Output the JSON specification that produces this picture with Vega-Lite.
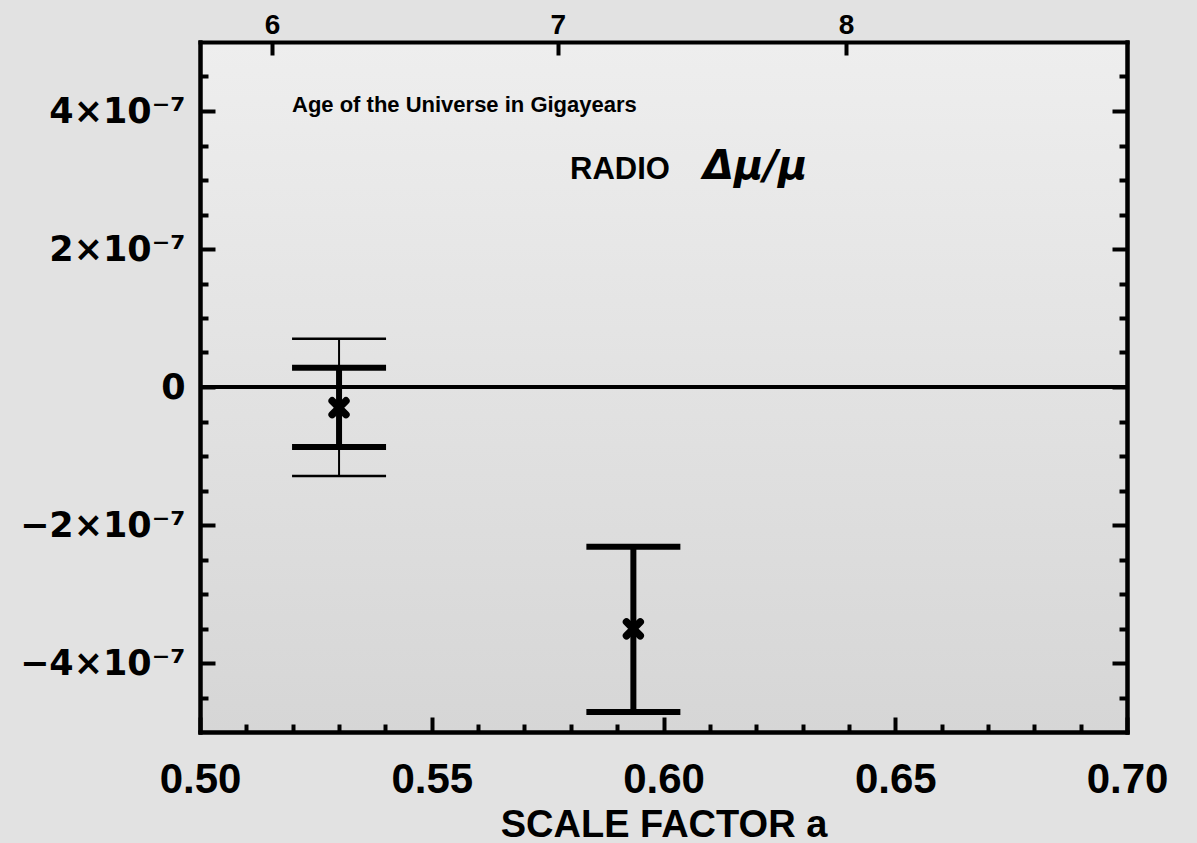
{
  "$schema": "https://vega.github.io/schema/vega-lite/v6.json",
  "width": 927,
  "height": 690,
  "autosize": {"type": "none"},
  "padding": {"left": 200, "top": 42, "right": 70, "bottom": 111},
  "background": "#e2e2e2",
  "config": {
    "view": {"stroke": null, "fill": {"gradient": "linear", "x1": 0, "y1": 0, "x2": 0, "y2": 1, "stops": [{"offset": 0, "color": "#eeeeee"}, {"offset": 1, "color": "#d6d6d6"}]}},
    "axis": {"grid": false, "domainColor": "black", "domainWidth": 4, "domainCap": "square", "tickColor": "black", "tickWidth": 4, "labelColor": "black", "labelFont": "Liberation Sans", "titleFont": "Liberation Sans", "titleColor": "black", "labelFlush": false, "labelOverlap": false},
    "mark": {"color": "black"}
  },
  "datasets": {
    "pts": [
      {"a": 0.530, "mu": -0.30e-7, "lo": -0.87e-7, "hi": 0.28e-7, "lo2": -1.29e-7, "hi2": 0.70e-7},
      {"a": 0.5935, "mu": -3.505e-7, "lo": -4.71e-7, "hi": -2.315e-7, "lo2": null, "hi2": null}
    ]
  },
  "layer": [
    {
      "data": {"name": "pts"},
      "transform": [{"filter": "isValid(datum.lo2)"}],
      "mark": {"type": "rule", "strokeWidth": 2},
      "encoding": {
        "x": {"field": "a", "type": "quantitative", "scale": {"domain": [0.5, 0.7], "nice": false, "zero": false},
          "axis": {"orient": "bottom", "values": [0.5, 0.55, 0.6, 0.65, 0.7], "format": ".2f", "tickSize": -15, "labelPadding": 42, "labelFontSize": 42, "labelFontWeight": "bold", "title": "SCALE FACTOR a", "titleFontSize": 38, "titleFontWeight": "bold", "titleBaseline": "alphabetic", "titleY": 104}},
        "y": {"field": "lo2", "type": "quantitative", "scale": {"domain": [-5e-7, 5e-7], "nice": false, "zero": false},
          "axis": {"orient": "left", "values": [-4e-7, -2e-7, 0, 2e-7, 4e-7], "tickSize": -15, "labelPadding": 30, "labelFont": "DejaVu Sans", "labelFontSize": 35, "labelFontWeight": "bold", "labelExpr": "datum.value == 0 ? '0' : (datum.value < 0 ? '−' : '') + abs(round(datum.value * 1e7)) + '×10⁻⁷'", "title": null}},
        "y2": {"field": "hi2"}
      }
    },
    {
      "data": {"name": "pts"},
      "transform": [{"filter": "isValid(datum.lo2)"}, {"fold": ["lo2", "hi2"], "as": ["k", "v"]}],
      "mark": {"type": "tick", "orient": "horizontal", "size": 94, "thickness": 2.5, "opacity": 1},
      "encoding": {
        "x": {"field": "a", "type": "quantitative", "scale": {"domain": [0.5, 0.7], "nice": false, "zero": false},
          "axis": {"orient": "bottom", "values": [0.51, 0.52, 0.53, 0.54, 0.56, 0.57, 0.58, 0.59, 0.61, 0.62, 0.63, 0.64, 0.66, 0.67, 0.68, 0.69], "tickSize": -8, "labels": false, "title": null}},
        "y": {"field": "v", "type": "quantitative", "scale": {"domain": [-5e-7, 5e-7], "nice": false, "zero": false},
          "axis": {"orient": "left", "values": [-4.5e-7, -3.5e-7, -3e-7, -2.5e-7, -1.5e-7, -1e-7, -0.5e-7, 0.5e-7, 1e-7, 1.5e-7, 2.5e-7, 3e-7, 3.5e-7, 4.5e-7], "tickSize": -8, "labels": false, "title": null}}
      }
    },
    {
      "data": {"name": "pts"},
      "mark": {"type": "rule", "strokeWidth": 6},
      "encoding": {
        "x": {"field": "a", "type": "quantitative", "scale": {"domain": [0.5, 0.7], "nice": false, "zero": false},
          "axis": {"orient": "top", "values": [0.51553, 0.5772, 0.6394], "labelExpr": "datum.value < 0.55 ? '6' : (datum.value < 0.6 ? '7' : '8')", "tickSize": -13, "labelPadding": 16, "labelFontSize": 28, "labelFontWeight": "bold", "title": null}},
        "y": {"field": "lo", "type": "quantitative", "scale": {"domain": [-5e-7, 5e-7], "nice": false, "zero": false},
          "axis": {"orient": "right", "values": [-4e-7, -2e-7, 0, 2e-7, 4e-7], "tickSize": -15, "labels": false, "title": null}},
        "y2": {"field": "hi"}
      }
    },
    {
      "data": {"name": "pts"},
      "transform": [{"fold": ["lo", "hi"], "as": ["k", "v"]}],
      "mark": {"type": "tick", "orient": "horizontal", "size": 94, "thickness": 6, "opacity": 1},
      "encoding": {
        "x": {"field": "a", "type": "quantitative", "scale": {"domain": [0.5, 0.7], "nice": false, "zero": false}, "axis": null},
        "y": {"field": "v", "type": "quantitative", "scale": {"domain": [-5e-7, 5e-7], "nice": false, "zero": false},
          "axis": {"orient": "right", "values": [-4.5e-7, -3.5e-7, -3e-7, -2.5e-7, -1.5e-7, -1e-7, -0.5e-7, 0.5e-7, 1e-7, 1.5e-7, 2.5e-7, 3e-7, 3.5e-7, 4.5e-7], "tickSize": -8, "labels": false, "title": null}}
      }
    },
    {
      "data": {"values": [{"z": 0}]},
      "mark": {"type": "rule", "strokeWidth": 4},
      "encoding": {
        "y": {"field": "z", "type": "quantitative", "scale": {"domain": [-5e-7, 5e-7], "nice": false, "zero": false}, "axis": null}
      }
    },
    {
      "data": {"name": "pts"},
      "mark": {"type": "point", "shape": "M-1,-1L1,1M1,-1L-1,1", "filled": false, "strokeWidth": 7.5, "strokeCap": "round", "size": 190, "opacity": 1},
      "encoding": {
        "x": {"field": "a", "type": "quantitative", "scale": {"domain": [0.5, 0.7], "nice": false, "zero": false}, "axis": null},
        "y": {"field": "mu", "type": "quantitative", "scale": {"domain": [-5e-7, 5e-7], "nice": false, "zero": false}, "axis": null}
      }
    },
    {
      "data": {"values": [{"label": "Age of the Universe in Gigayears"}]},
      "mark": {"type": "text", "align": "left", "baseline": "alphabetic", "font": "Liberation Sans", "fontSize": 22, "fontWeight": "bold"},
      "encoding": {
        "x": {"datum": 0.51985, "type": "quantitative", "scale": {"domain": [0.5, 0.7], "nice": false, "zero": false}, "axis": null},
        "y": {"datum": 3.98e-7, "type": "quantitative", "scale": {"domain": [-5e-7, 5e-7], "nice": false, "zero": false}, "axis": null},
        "text": {"field": "label"}
      }
    },
    {
      "data": {"values": [{"label": "RADIO"}]},
      "mark": {"type": "text", "align": "left", "baseline": "alphabetic", "font": "Liberation Sans", "fontSize": 31, "fontWeight": "bold"},
      "encoding": {
        "x": {"datum": 0.57983, "type": "quantitative", "scale": {"domain": [0.5, 0.7], "nice": false, "zero": false}, "axis": null},
        "y": {"datum": 3.01e-7, "type": "quantitative", "scale": {"domain": [-5e-7, 5e-7], "nice": false, "zero": false}, "axis": null},
        "text": {"field": "label"}
      }
    },
    {
      "data": {"values": [{"label": "Δμ/μ"}]},
      "mark": {"type": "text", "align": "left", "baseline": "alphabetic", "font": "DejaVu Sans", "fontSize": 40, "fontWeight": "bold", "fontStyle": "italic"},
      "encoding": {
        "x": {"datum": 0.60852, "type": "quantitative", "scale": {"domain": [0.5, 0.7], "nice": false, "zero": false}, "axis": null},
        "y": {"datum": 3.01e-7, "type": "quantitative", "scale": {"domain": [-5e-7, 5e-7], "nice": false, "zero": false}, "axis": null},
        "text": {"field": "label"}
      }
    }
  ],
  "resolve": {"axis": {"x": "independent", "y": "independent"}}
}
